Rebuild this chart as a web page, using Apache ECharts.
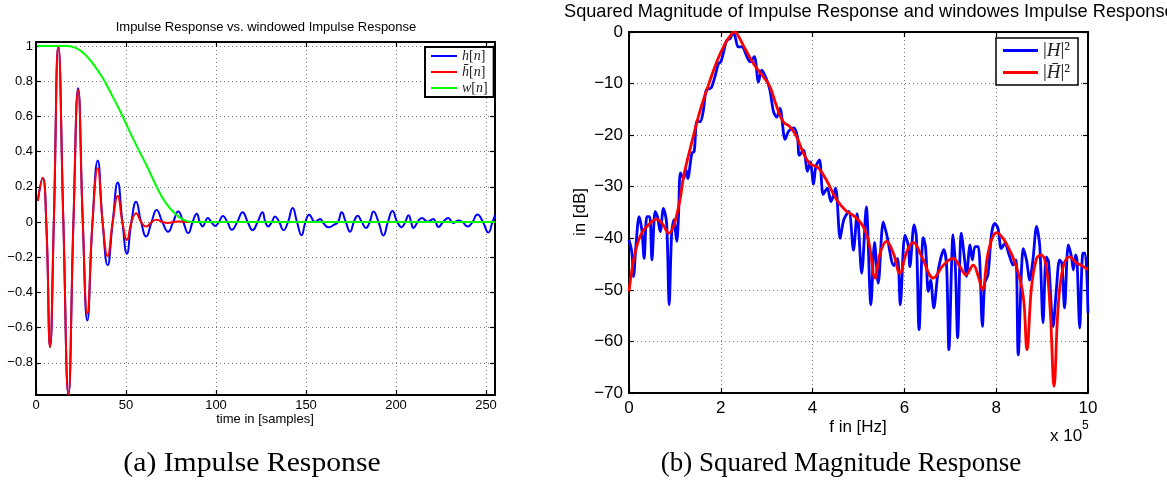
<!DOCTYPE html>
<html><head><meta charset="utf-8">
<script src="https://cdn.jsdelivr.net/npm/echarts@6/dist/echarts.min.js"></script>
<style>html,body{margin:0;padding:0;background:#fff}#c{width:1167px;height:492px}</style>
</head><body><div id="c"></div>
<script>
// ---------- data: left plot (n, value) ----------
const leftXTicks = [0, 50, 100, 150, 200, 250];
const leftYTicks = [-0.8, -0.6, -0.4, -0.2, 0, 0.2, 0.4, 0.6, 0.8, 1];
const hImpulse = [[1,0.12],[3.7,0.25],[5.7,0],[7.8,-0.71],[9.9,0],[12.4,1.0],[15.2,0],[18,-0.98],[20.8,0],[23.4,0.76],[26,0],[28.5,-0.56],[31.4,0],[34.3,0.35],[37,0],[39.8,-0.245],[42.6,0],[45.4,0.225],[48,0],[50.5,-0.18],[53,0],[55.6,0.115],[58.4,0],[61.2,-0.082],[64.2,0],[67,0.068],[70.2,0],[73.4,-0.055],[76.2,0],[79,0.06],[81.8,0],[84.6,-0.063],[87,0],[89.3,0.047],[91,0],[92.6,-0.025],[94,0],[95.4,0.023],[97.4,0],[99.5,-0.022],[101.6,0],[103.8,0.034],[106.3,0],[108.8,-0.044],[111.8,0],[114.8,0.056],[117.6,0],[120.3,-0.046],[123.1,0],[125.8,0.056],[127.4,0],[129,-0.025],[131,0],[132.8,0.032],[135.1,0],[137.5,-0.046],[140,0],[142.6,0.08],[145,0],[147.5,-0.075],[149.7,0],[151.8,0.042],[155,0],[157.8,0.017],[159.6,-0.006],[162.4,-0.03],[165.7,-0.015],[167.8,0],[169.8,0.055],[172.1,0],[174.5,-0.055],[176.6,0],[178.7,0.036],[181,0],[183.3,-0.034],[185.4,0],[187.5,0.06],[190.3,0],[193,-0.076],[195.5,0],[198,0.063],[200.7,0],[203.1,-0.03],[205.1,0],[207,0.038],[208.4,0],[209.7,-0.034],[212,0],[214.3,0.023],[217.6,0.002],[220.7,0.017],[222,0],[223.5,-0.028],[226.2,0],[229,0.023],[231.8,-0.006],[234.6,0.009],[237,0],[239.8,-0.026],[242.5,0],[245.2,0.043],[248.3,0],[251.3,-0.06],[253.6,0],[255,0.04]];
const hWindowed = [[1,0.12],[3.7,0.25],[5.7,0],[7.8,-0.71],[9.9,0],[12.4,1.0],[15.2,0],[18,-0.98],[20.8,0],[23.4,0.75],[26,0],[28.5,-0.52],[31.4,0],[34.3,0.305],[37,0],[39.8,-0.193],[42.6,0],[45.4,0.148],[48,0],[50.5,-0.102],[53,0],[55.6,0.05],[58.4,0],[61.3,-0.026],[64.2,0],[67,0.013],[70.2,0],[73.4,-0.005],[76.2,0],[79,0.003],[85,0],[255,0]];
const wWindow = [[1,1],[17,1],[22,0.99],[27,0.955],[32,0.895],[37,0.82],[42,0.725],[47,0.625],[52,0.515],[57,0.41],[62,0.31],[67,0.2],[72,0.11],[77,0.05],[82,0.012],[87,0],[255,0]];

// ---------- data: right plot (f in 1e5 Hz, dB) ----------
const rightXTicks = [0, 2, 4, 6, 8, 10];
const rightYTicks = [-70, -60, -50, -40, -30, -20, -10, 0];
const magH = [[0,-40.3],[0.06,-42.6],[0.10,-47.4],[0.15,-41.6],[0.22,-35.8],[0.28,-38.4],[0.33,-43.9],[0.39,-35.8],[0.45,-35.8],[0.50,-44.2],[0.57,-34.8],[0.62,-35.8],[0.68,-38.7],[0.75,-34.2],[0.82,-37.1],[0.875,-52.9],[0.93,-38.9],[0.98,-36.4],[1.04,-40.6],[1.08,-35.5],[1.12,-27.3],[1.19,-28.4],[1.24,-26.6],[1.28,-28.4],[1.37,-23.5],[1.42,-23.2],[1.48,-17.3],[1.55,-17.4],[1.62,-15.2],[1.68,-11.3],[1.75,-11.0],[1.80,-10.7],[1.88,-8.4],[1.95,-6.1],[2.00,-5.8],[2.06,-3.9],[2.13,-1.6],[2.20,-1.3],[2.27,-0.2],[2.31,-0.8],[2.38,-2.9],[2.46,-2.9],[2.57,-4.8],[2.64,-5.8],[2.73,-4.8],[2.82,-9.7],[2.89,-7.4],[2.99,-9.0],[3.07,-11.3],[3.15,-15.5],[3.22,-16.5],[3.29,-14.8],[3.40,-20.8],[3.48,-19.2],[3.59,-18.6],[3.67,-20.3],[3.71,-23.9],[3.80,-22.9],[3.89,-27.0],[3.95,-25.2],[4.02,-29.5],[4.07,-26.1],[4.15,-24.8],[4.23,-31.5],[4.32,-30.3],[4.40,-32.9],[4.50,-30.3],[4.60,-40.0],[4.68,-36.4],[4.79,-34.8],[4.89,-42.3],[4.97,-35.2],[5.07,-46.8],[5.17,-33.9],[5.27,-52.9],[5.35,-40.8],[5.43,-48.7],[5.54,-36.8],[5.62,-39.5],[5.77,-45.3],[5.85,-43.9],[5.91,-52.9],[6.01,-39.4],[6.08,-41.2],[6.12,-45.5],[6.21,-37.4],[6.26,-39.6],[6.32,-57.7],[6.41,-39.9],[6.46,-41.6],[6.52,-50.3],[6.57,-48.1],[6.64,-53.5],[6.74,-46.1],[6.86,-42.2],[6.92,-45.5],[6.97,-61.6],[7.06,-39.3],[7.11,-45.5],[7.16,-59.3],[7.24,-39.0],[7.32,-44.8],[7.35,-47.4],[7.43,-41.3],[7.48,-44.2],[7.54,-41.6],[7.61,-41.6],[7.70,-57.1],[7.75,-48.7],[7.82,-47.1],[7.90,-39.0],[7.97,-37.1],[8.04,-38.1],[8.11,-42.0],[8.19,-41.0],[8.28,-43.2],[8.37,-45.2],[8.43,-44.2],[8.48,-62.6],[8.59,-42.0],[8.66,-44.2],[8.73,-48.1],[8.80,-44.2],[8.88,-37.7],[8.95,-41.6],[9.02,-56.4],[9.09,-43.6],[9.14,-44.5],[9.24,-57.1],[9.31,-50.0],[9.38,-44.2],[9.43,-44.8],[9.49,-53.5],[9.57,-41.3],[9.64,-43.6],[9.68,-46.1],[9.73,-43.2],[9.76,-44.2],[9.82,-57.4],[9.89,-42.9],[9.94,-42.9],[10.0,-54.5]];
const magHbar = [[0,-50.3],[0.10,-44.2],[0.21,-40.3],[0.32,-38.4],[0.46,-37.1],[0.59,-36.3],[0.72,-37.1],[0.87,-39.0],[0.97,-37.7],[1.11,-32.6],[1.19,-28.0],[1.37,-21.3],[1.55,-15.2],[1.73,-10.3],[1.91,-5.8],[2.09,-2.3],[2.24,-0.3],[2.30,0],[2.35,-0.3],[2.49,-2.6],[2.71,-6.1],[2.93,-8.7],[3.07,-10.6],[3.22,-14.5],[3.36,-17.4],[3.51,-18.4],[3.65,-20.3],[3.80,-23.5],[3.94,-25.5],[4.12,-26.3],[4.30,-28.7],[4.52,-32.5],[4.72,-34.6],[4.92,-35.8],[5.10,-37.7],[5.23,-41.0],[5.36,-47.7],[5.47,-42.9],[5.61,-40.6],[5.76,-42.9],[5.90,-46.8],[6.05,-42.6],[6.19,-40.8],[6.38,-43.6],[6.63,-47.7],[6.85,-45.2],[7.06,-43.9],[7.21,-45.5],[7.34,-47.1],[7.50,-45.2],[7.61,-47.4],[7.70,-50.0],[7.83,-42.6],[8.01,-38.9],[8.22,-41.0],[8.44,-45.5],[8.59,-51.3],[8.67,-61.6],[8.77,-49.4],[8.88,-43.9],[8.98,-43.2],[9.09,-45.5],[9.18,-54.5],[9.26,-68.7],[9.35,-53.2],[9.46,-45.5],[9.60,-43.6],[9.75,-44.8],[9.85,-45.2],[10.0,-46.1]];

// ---------- chart ----------
const SANS = 'Liberation Sans';
const SERIF = 'Liberation Serif';
function fmtNum(v) {
  const r = Math.round(v * 1000) / 1000;
  return r < 0 ? '\u2212' + String(Math.abs(r)) : String(r);
}
function axis(gridIndex, position, min, max, ticks, showLabels, fontSize, margin) {
  return {
    type: 'value', gridIndex: gridIndex, position: position, min: min, max: max,
    axisLine: { show: true, onZero: false, lineStyle: { color: '#000', width: 2 } },
    axisTick: { show: true, inside: true, length: 5, customValues: ticks, lineStyle: { color: '#000', width: 1.2 } },
    axisLabel: { show: showLabels, customValues: ticks, fontSize: fontSize, color: '#000', margin: margin,
      fontFamily: SANS, formatter: fmtNum, showMinLabel: true, showMaxLabel: true, hideOverlap: false },
    splitLine: { show: showLabels, lineStyle: { color: '#7a7a7a', type: [1, 3], width: 1 } }
  };
}
const chart = echarts.init(document.getElementById('c'), null, { renderer: 'canvas' });
const legendRich13 = {
  it: { fontFamily: SERIF, fontStyle: 'italic', fontSize: 14, lineHeight: 14, color: '#222' },
  rm: { fontFamily: SERIF, fontSize: 14, lineHeight: 14, color: '#222' }
};
const legendRich18 = {
  it: { fontFamily: SERIF, fontStyle: 'italic', fontSize: 19, lineHeight: 19, color: '#222' },
  rm: { fontFamily: SERIF, fontSize: 19, lineHeight: 19, color: '#222' }
};
const legendText = {
  'h[n]': '{it|h}{rm|[}{it|n}{rm|]}',
  'h\u0304[n]': '{it|h\u0304}{rm|[}{it|n}{rm|]}',
  'w[n]': '{it|w}{rm|[}{it|n}{rm|]}',
  '|H|\u00b2': '{rm||}{it|H}{rm||\u00b2}',
  '|H\u0304|\u00b2': '{rm||}{it|H\u0304}{rm||\u00b2}'
};
function lineSeries(name, xi, data, color, width, smooth) {
  return { name: name, type: 'line', xAxisIndex: xi, yAxisIndex: xi, data: data, symbol: 'none',
    smooth: smooth, color: color, lineStyle: { color: color, width: width }, animation: false };
}
chart.setOption({
  animation: false,
  backgroundColor: '#fff',
  textStyle: { fontFamily: SANS },
  grid: [
    { left: 36, top: 42, width: 459, height: 353 },
    { left: 629, top: 32, width: 459, height: 361 }
  ],
  xAxis: [
    axis(0, 'bottom', 0, 255, leftXTicks, true, 13, 4),
    axis(0, 'top', 0, 255, leftXTicks, false, 13, 4),
    axis(1, 'bottom', 0, 10, rightXTicks, true, 17, 7),
    axis(1, 'top', 0, 10, rightXTicks, false, 17, 7)
  ],
  yAxis: [
    axis(0, 'left', -0.983, 1.023, leftYTicks, true, 13, 3),
    axis(0, 'right', -0.983, 1.023, leftYTicks, false, 13, 3),
    axis(1, 'left', -70, 0, rightYTicks, true, 17, 6),
    axis(1, 'right', -70, 0, rightYTicks, false, 17, 6)
  ],
  legend: [
    { data: ['h[n]', 'h\u0304[n]', 'w[n]'], orient: 'vertical', left: 425, top: 47,
      padding: [2, 6, 2, 6], icon: 'rect', itemWidth: 26, itemHeight: 2, itemGap: 2,
      borderColor: '#000', borderWidth: 2, backgroundColor: '#fff', selectedMode: false,
      formatter: function (n) { return legendText[n]; }, textStyle: { rich: legendRich13 } },
    { data: ['|H|\u00b2', '|H\u0304|\u00b2'], orient: 'vertical', left: 996, top: 38,
      padding: [3, 8, 3, 7], icon: 'rect', itemWidth: 35, itemHeight: 3, itemGap: 3,
      borderColor: '#000', borderWidth: 1.5, backgroundColor: '#fff', selectedMode: false,
      formatter: function (n) { return legendText[n]; }, textStyle: { rich: legendRich18 } }
  ],
  series: [
    lineSeries('h[n]', 0, hImpulse, '#0000ff', 2, 0.5),
    lineSeries('h\u0304[n]', 0, hWindowed, '#ff0000', 2, 0.5),
    lineSeries('w[n]', 0, wWindow, '#00ff00', 2, 0.4),
    lineSeries('|H|\u00b2', 2, magH, '#0000ff', 2.8, 0.3),
    lineSeries('|H\u0304|\u00b2', 2, magHbar, '#ff0000', 2.8, 0.4)
  ],
  graphic: [
    { type: 'text', x: 266, y: 27, style: { text: 'Impulse Response vs. windowed Impulse Response',
      font: '13px "Liberation Sans"', fill: '#000', textAlign: 'center', textVerticalAlign: 'middle', align: 'center', verticalAlign: 'middle' } },
    { type: 'text', x: 265, y: 419, style: { text: 'time in [samples]',
      font: '13px "Liberation Sans"', fill: '#000', textAlign: 'center', textVerticalAlign: 'middle', align: 'center', verticalAlign: 'middle' } },
    { type: 'text', x: 564, y: 12, style: { text: 'Squared Magnitude of Impulse Response and windowes Impulse Response',
      font: '18.2px "Liberation Sans"', fill: '#000', textAlign: 'left', textVerticalAlign: 'middle', align: 'left', verticalAlign: 'middle' } },
    { type: 'text', x: 858, y: 427, style: { text: 'f in [Hz]',
      font: '17px "Liberation Sans"', fill: '#000', textAlign: 'center', textVerticalAlign: 'middle', align: 'center', verticalAlign: 'middle' } },
    { type: 'text', x: 580, y: 212, rotation: Math.PI / 2, style: { text: 'in [dB]',
      font: '17px "Liberation Sans"', fill: '#000', textAlign: 'center', textVerticalAlign: 'middle', align: 'center', verticalAlign: 'middle' } },
    { type: 'text', x: 1050, y: 436, style: { text: 'x 10',
      font: '17px "Liberation Sans"', fill: '#000', textAlign: 'left', textVerticalAlign: 'middle', align: 'left', verticalAlign: 'middle' } },
    { type: 'text', x: 1082, y: 426, style: { text: '5',
      font: '12px "Liberation Sans"', fill: '#000', textAlign: 'left', textVerticalAlign: 'middle', align: 'left', verticalAlign: 'middle' } },
    { type: 'text', x: 252, y: 464, scaleX: 1.1, style: { text: '(a) Impulse Response',
      font: '27px "Liberation Serif"', fill: '#000', textAlign: 'center', textVerticalAlign: 'middle', align: 'center', verticalAlign: 'middle' } },
    { type: 'text', x: 841, y: 464, style: { text: '(b) Squared Magnitude Response',
      font: '27px "Liberation Serif"', fill: '#000', textAlign: 'center', textVerticalAlign: 'middle', align: 'center', verticalAlign: 'middle' } }
  ]
});
</script></body></html>
